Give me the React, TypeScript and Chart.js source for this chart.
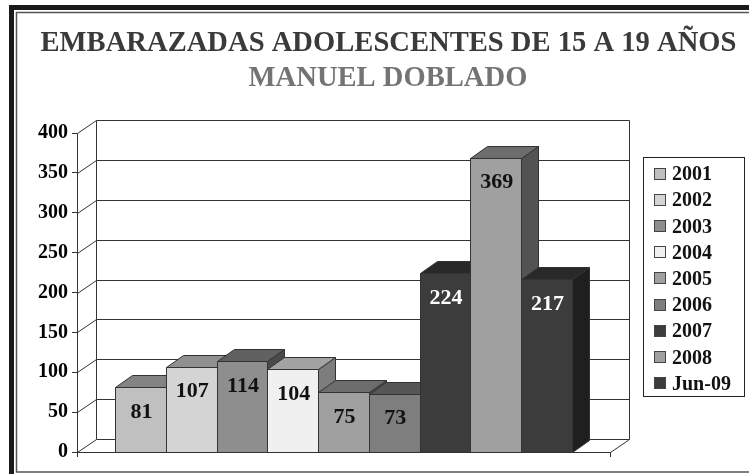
import { useEffect, useRef } from "react";
import { Chart, registerables } from "chart.js";

Chart.register(...registerables);

const TITLE_LINE_1 = "EMBARAZADAS ADOLESCENTES DE 15 A 19 AÑOS";
const TITLE_LINE_2 = "MANUEL DOBLADO";
const CATEGORIES = [""];
const SERIES_LABELS = ["2001", "2002", "2003", "2004", "2005", "2006", "2007", "2008", "Jun-09"];
const SERIES_VALUES = [81, 107, 114, 104, 75, 73, 224, 369, 217];
const SERIES_COLORS = ["#c0c0c0", "#d4d4d4", "#8e8e8e", "#f0f0f0", "#a0a0a0", "#7e7e7e", "#3c3c3c", "#a0a0a0", "#3c3c3c"];
const VALUE_LABEL_COLORS = ["#111", "#111", "#111", "#111", "#111", "#111", "#fff", "#111", "#fff"];
const Y_MIN = 0;
const Y_MAX = 400;
const Y_STEP = 50;

const FONT = '"Liberation Serif", "Times New Roman", serif';
const LINE = "#333333";
const WALL_DX = 19;
const WALL_DY = 13;
const BAR_DX = 17;
const BAR_DY = 12;

function shade(hex: string, f: number): string {
  const n = parseInt(hex.slice(1), 16);
  const r = Math.round(((n >> 16) & 255) * f);
  const g = Math.round(((n >> 8) & 255) * f);
  const b = Math.round((n & 255) * f);
  return `rgb(${r},${g},${b})`;
}

const p = (v: number) => Math.round(v) + 0.5;

const scenePlugin = {
  id: "scene3d",
  beforeDraw(chart: any) {
    const ctx = chart.ctx as CanvasRenderingContext2D;
    const W = chart.width;
    const H = chart.height;
    ctx.save();
    ctx.fillStyle = "#ffffff";
    ctx.fillRect(0, 0, W, H);

    // outer frame
    ctx.fillStyle = "#1a1a1a";
    ctx.fillRect(9, 5, 5, H - 5);
    ctx.fillRect(9, 5, W - 9, 5);
    ctx.strokeStyle = "#555";
    ctx.lineWidth = 1.5;
    ctx.beginPath();
    ctx.moveTo(W, 12.5);
    ctx.lineTo(16.5, 12.5);
    ctx.lineTo(16.5, 472);
    ctx.lineTo(W, 472);
    ctx.stroke();

    // titles
    ctx.textAlign = "center";
    ctx.textBaseline = "alphabetic";
    ctx.font = `bold 28.6px ${FONT}`;
    ctx.fillStyle = "#3a3a3a";
    ctx.fillText(TITLE_LINE_1, 388.5, 51);
    ctx.fillStyle = "#747474";
    ctx.fillText(TITLE_LINE_2, 388, 85.5);

    // back wall, floor and grid
    const { left, right, top, bottom } = chart.chartArea;
    const ys = chart.scales.y;
    ctx.strokeStyle = LINE;
    ctx.lineWidth = 1;
    ctx.beginPath();
    for (const t of ys.ticks) {
      const py = ys.getPixelForValue(t.value);
      ctx.moveTo(p(left), p(py));
      ctx.lineTo(p(left + WALL_DX), p(py - WALL_DY));
      ctx.lineTo(p(right + WALL_DX), p(py - WALL_DY));
    }
    ctx.moveTo(p(left + WALL_DX), p(top - WALL_DY));
    ctx.lineTo(p(left + WALL_DX), p(bottom - WALL_DY));
    ctx.moveTo(p(right + WALL_DX), p(top - WALL_DY));
    ctx.lineTo(p(right + WALL_DX), p(bottom - WALL_DY));
    ctx.moveTo(p(right), p(bottom));
    ctx.lineTo(p(right + WALL_DX), p(bottom - WALL_DY));
    ctx.stroke();
    ctx.restore();
  },
  afterDatasetsDraw(chart: any) {
    const ctx = chart.ctx as CanvasRenderingContext2D;
    ctx.save();
    const metas = chart.getSortedVisibleDatasetMetas().slice();
    const bars: any[] = [];
    metas.forEach((meta: any) => {
      meta.data.forEach((el: any) => {
        const props = el.getProps(["x", "y", "base", "width"], true);
        bars.push({ ...props, ds: meta.index });
      });
    });
    bars.sort((a, b) => a.x - b.x);
    ctx.strokeStyle = LINE;
    ctx.lineWidth = 1;
    ctx.lineJoin = "round";
    for (const b of bars) {
      const color = SERIES_COLORS[b.ds];
      const l = p(b.x - b.width / 2);
      const r = p(b.x + b.width / 2);
      const t = p(b.y);
      const bt = p(b.base);
      // side
      ctx.beginPath();
      ctx.moveTo(r, t);
      ctx.lineTo(r + BAR_DX, t - BAR_DY);
      ctx.lineTo(r + BAR_DX, bt - BAR_DY);
      ctx.lineTo(r, bt);
      ctx.closePath();
      ctx.fillStyle = shade(color, 0.52);
      ctx.fill();
      ctx.stroke();
      // top
      ctx.beginPath();
      ctx.moveTo(l, t);
      ctx.lineTo(r, t);
      ctx.lineTo(r + BAR_DX, t - BAR_DY);
      ctx.lineTo(l + BAR_DX, t - BAR_DY);
      ctx.closePath();
      ctx.fillStyle = shade(color, 0.68);
      ctx.fill();
      ctx.stroke();
      // front
      ctx.beginPath();
      ctx.rect(l, t, r - l, bt - t);
      ctx.fillStyle = color;
      ctx.fill();
      ctx.stroke();
      // value label
      ctx.font = `bold 22px ${FONT}`;
      ctx.textAlign = "center";
      ctx.textBaseline = "middle";
      ctx.fillStyle = VALUE_LABEL_COLORS[b.ds];
      const v = chart.data.datasets[b.ds].data[0];
      ctx.fillText(String(v), b.x + 1, b.y + 25);
    }
    ctx.restore();
  },
  afterDraw(chart: any) {
    const ctx = chart.ctx as CanvasRenderingContext2D;
    ctx.save();
    ctx.strokeStyle = "#222";
    ctx.lineWidth = 1;
    ctx.strokeRect(643.5, 157.5, 101, 239);
    ctx.font = `bold 20px ${FONT}`;
    ctx.textAlign = "left";
    ctx.textBaseline = "alphabetic";
    chart.data.datasets.forEach((ds: any, i: number) => {
      const cy = 173.5 + i * 26.2;
      ctx.fillStyle = ds.legendColor;
      ctx.fillRect(654, Math.round(cy - 6), 12, 12);
      ctx.strokeStyle = "#444";
      ctx.strokeRect(654.5, Math.round(cy - 6) + 0.5, 11, 11);
      ctx.fillStyle = "#111";
      ctx.fillText(ds.label, 672, cy + 6.7);
    });
    ctx.restore();
  },
};

export default function App() {
  const ref = useRef<HTMLCanvasElement | null>(null);
  useEffect(() => {
    if (!ref.current) return;
    const chart = new Chart(ref.current, {
      type: "bar",
      data: {
        labels: CATEGORIES,
        datasets: SERIES_LABELS.map((label, i) => ({
          label,
          data: [SERIES_VALUES[i]],
          backgroundColor: "rgba(0,0,0,0)",
          borderWidth: 0,
          legendColor: SERIES_COLORS[i],
        })) as any,
      },
      options: {
        responsive: false,
        animation: false,
        devicePixelRatio: 1,
        layout: { padding: { top: 133, right: 139, bottom: 0, left: 0 } },
        plugins: {
          legend: { display: false },
          title: { display: false },
          tooltip: { enabled: false },
        },
        datasets: { bar: { categoryPercentage: 0.857, barPercentage: 1 } },
        scales: {
          x: {
            offset: true,
            ticks: { display: false },
            grid: { display: true, drawOnChartArea: false, drawTicks: true, tickLength: 5, color: LINE, offset: true },
            border: { display: true, color: LINE },
            afterFit(scale: any) {
              scale.height = 22;
            },
          },
          y: {
            min: Y_MIN,
            max: Y_MAX,
            ticks: {
              stepSize: Y_STEP,
              padding: 4,
              color: "#000",
              font: { family: FONT, size: 20, weight: "bold" },
            },
            grid: { display: true, drawOnChartArea: false, drawTicks: true, tickLength: 5, color: LINE },
            border: { display: true, color: LINE },
            afterFit(scale: any) {
              scale.width = 77;
            },
          },
        },
      } as any,
      plugins: [scenePlugin],
    });
    return () => chart.destroy();
  }, []);
  return (
    <div style={{ position: "fixed", left: 0, top: 0, width: 749, height: 474, background: "#fff" }}>
      <canvas ref={ref} width={749} height={474} style={{ display: "block", width: 749, height: 474 }} />
    </div>
  );
}
